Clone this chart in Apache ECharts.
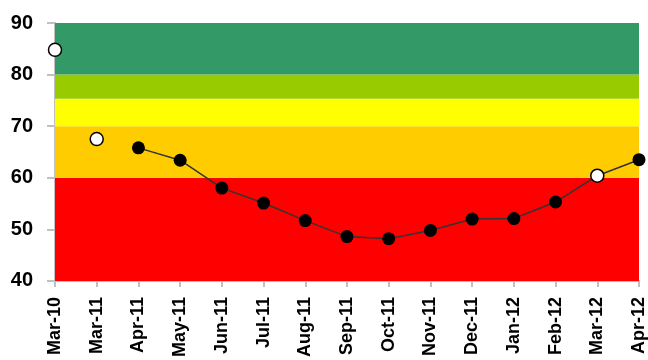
<!DOCTYPE html>
<html><head><meta charset="utf-8">
<script src="https://cdn.jsdelivr.net/npm/echarts@6/dist/echarts.min.js"></script>
<style>html,body{margin:0;padding:0;background:#fff}#c{width:648px;height:360px}</style>
</head><body><div id="c"></div>
<script>
var categories = ['Mar-10','Mar-11','Apr-11','May-11','Jun-11','Jul-11','Aug-11','Sep-11','Oct-11','Nov-11','Dec-11','Jan-12','Feb-12','Mar-12','Apr-12'];
var lineValues = ['-','-',65.8,63.4,58,55.1,51.7,48.6,48.2,49.8,52,52.1,55.3,60.4,63.5];
var openValues = [84.8,67.5,'-','-','-','-','-','-','-','-','-','-','-',60.4,'-'];
var bandEdges = [40,60,70,75.3,80,90];
var bandColors = ['#FF0000','#FFCC00','#FFFF00','#99CC00','#339966'];
var yTicks = [40,50,60,70,80,90];

var areas = [];
for (var i = 0; i < bandColors.length; i++) {
  areas.push([{yAxis: bandEdges[i], itemStyle:{color: bandColors[i], opacity:1}}, {yAxis: bandEdges[i+1]}]);
}
var chart = echarts.init(document.getElementById('c'));
chart.setOption({
  animation:false,
  grid:{left:55,right:9,top:23,bottom:79},
  xAxis:{type:'category',data:categories,boundaryGap:false,
    axisLine:{lineStyle:{color:'#c0c0c0',width:2}},
    axisTick:{show:true,length:6,lineStyle:{color:'#c0c0c0',width:2}},
    axisLabel:{rotate:90,margin:16,color:'#000',fontFamily:'Liberation Sans',fontWeight:'bold',fontSize:18,interval:0},
    splitLine:{show:false}},
  yAxis:{type:'value',min:yTicks[0],max:yTicks[yTicks.length-1],interval:10,
    axisLine:{show:true,lineStyle:{color:'#c0c0c0',width:2}},
    axisTick:{show:true,length:8,lineStyle:{color:'#c0c0c0',width:2}},
    axisLabel:{margin:22,color:'#000',fontFamily:'Liberation Sans',fontWeight:'bold',fontSize:20},
    splitLine:{show:false}},
  series:[
    {type:'line',data:lineValues,symbol:'circle',symbolSize:13,
      lineStyle:{color:'#333',width:1.5},itemStyle:{color:'#000',opacity:1},
      markArea:{silent:true,data:areas},z:3},
    {type:'scatter',data:openValues,symbol:'circle',symbolSize:13,
      itemStyle:{color:'#ffffff',borderColor:'#000',borderWidth:1.5,opacity:1},z:4}
  ]
});
</script></body></html>
